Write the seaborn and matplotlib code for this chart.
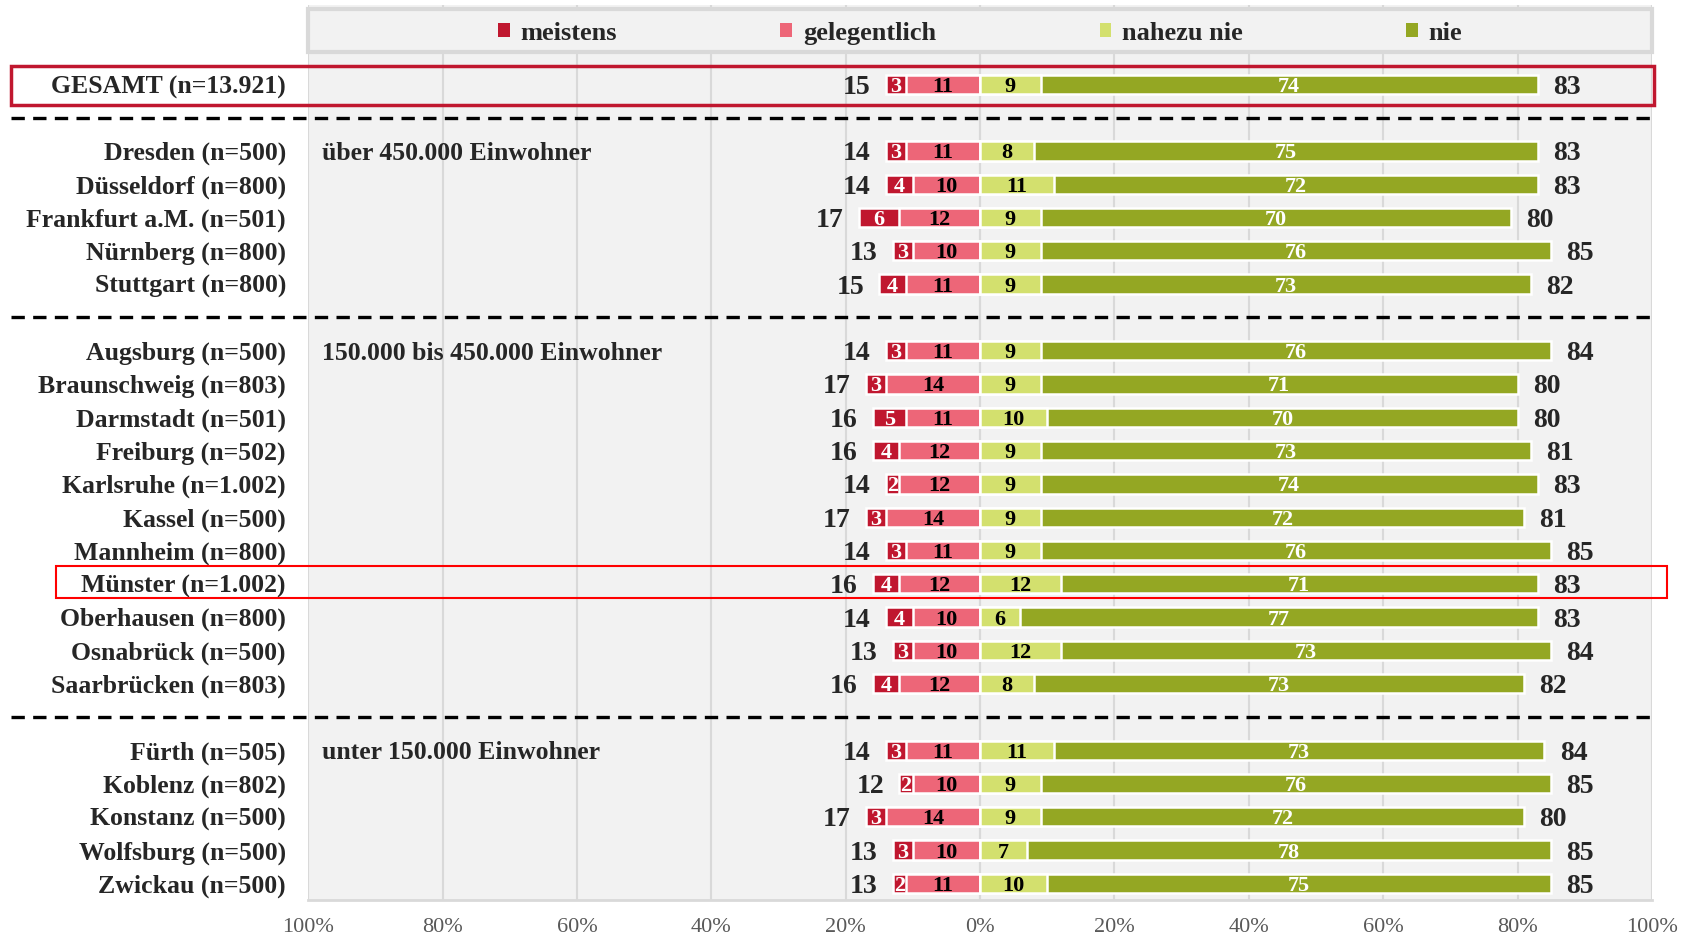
import pandas as pd
import seaborn as sns
import matplotlib.pyplot as plt
import matplotlib.transforms as mtransforms
from matplotlib.patches import Patch, Rectangle

cities = ["GESAMT (n=13.921)",
          "Dresden (n=500)", "Düsseldorf (n=800)", "Frankfurt a.M. (n=501)",
          "Nürnberg (n=800)", "Stuttgart (n=800)",
          "Augsburg (n=500)", "Braunschweig (n=803)", "Darmstadt (n=501)",
          "Freiburg (n=502)", "Karlsruhe (n=1.002)", "Kassel (n=500)",
          "Mannheim (n=800)", "Münster (n=1.002)", "Oberhausen (n=800)",
          "Osnabrück (n=500)", "Saarbrücken (n=803)",
          "Fürth (n=505)", "Koblenz (n=802)", "Konstanz (n=500)",
          "Wolfsburg (n=500)", "Zwickau (n=500)"]
positions = [0, 2, 3, 4, 5, 6, 8, 9, 10, 11, 12, 13, 14, 15, 16, 17, 18,
             20, 21, 22, 23, 24]

meistens = [3, 3, 4, 6, 3, 4, 3, 3, 5, 4, 2, 3, 3, 4, 4, 3, 4, 3, 2, 3, 3, 2]
gelegentlich = [11, 11, 10, 12, 10, 11, 11, 14, 11, 12, 12, 14, 11, 12, 10, 10, 12,
                11, 10, 14, 10, 11]
nahezu_nie = [9, 8, 11, 9, 9, 9, 9, 9, 10, 9, 9, 9, 9, 12, 6, 12, 8, 11, 9, 9, 7, 10]
nie = [74, 75, 72, 70, 76, 73, 76, 71, 70, 73, 74, 72, 76, 71, 77, 73, 73,
       73, 76, 72, 78, 75]
total_left = [15, 14, 14, 17, 13, 15, 14, 17, 16, 16, 14, 17, 14, 16, 14, 13, 16,
              14, 12, 17, 13, 13]
total_right = [83, 83, 83, 80, 85, 82, 84, 80, 80, 81, 83, 81, 85, 83, 83, 84, 82,
               84, 85, 80, 85, 85]

groups = ["über 450.000 Einwohner", "150.000 bis 450.000 Einwohner",
          "unter 150.000 Einwohner"]
group_pos = [2, 8, 20]
separators = [1, 7, 19]
highlight_gesamt = 0
highlight_muenster = 15

categories = ["meistens", "gelegentlich", "nahezu nie", "nie"]
colors = ["#C0172F", "#ED6678", "#D3E06E", "#94A723"]
label_colors = ["white", "black", "black", "white"]

xticks = [-100, -80, -60, -40, -20, 0, 20, 40, 60, 80, 100]
xtick_labels = ["100%", "80%", "60%", "40%", "20%", "0%", "20%", "40%", "60%", "80%", "100%"]

df = pd.DataFrame({"city": cities, "pos": positions, "m": meistens, "g": gelegentlich,
                   "n": nahezu_nie, "nie": nie})
df["left_outer"] = -(df["m"] + df["g"])
df["left_inner"] = -df["g"]
df["right_outer"] = df["n"] + df["nie"]
df["right_inner"] = df["n"]

sns.set_theme(style="whitegrid", rc={"axes.facecolor": "#F2F2F2", "grid.color": "#D9D9D9",
                                     "grid.linewidth": 1.5})
plt.rcParams["font.family"] = ["Liberation Serif", "DejaVu Serif"]

fig = plt.figure(figsize=(16.84, 9.39), dpi=100)
ax = fig.add_axes([0.183, 0.0415, 0.798, 0.9527])

layers = [("left_outer", colors[0]), ("left_inner", colors[1]),
          ("right_outer", colors[3]), ("right_inner", colors[2])]
for col, c in layers:
    sns.barplot(data=df, x=col, y="pos", orient="y", native_scale=True, color=c,
                saturation=1, width=0.58, edgecolor="white", linewidth=1.8,
                errorbar=None, ax=ax)

# segment labels
for _, r in df.iterrows():
    centers = [-(r.g + r.m / 2), -r.g / 2, r.n / 2, r.n + r.nie / 2]
    vals = [r.m, r.g, r.n, r.nie]
    for xc, v, lc in zip(centers, vals, label_colors):
        ax.text(xc, r.pos, f"{v}", ha="center", va="center_baseline", color=lc,
                fontsize=16, fontweight="bold")

for p, lo, tl, ro, tr in zip(df["pos"], df["left_outer"], total_left,
                             df["right_outer"], total_right):
    ax.annotate(f"{tl}", (lo, p), xytext=(-11, 0), textcoords="offset points",
                ha="right", va="center_baseline", fontsize=20, fontweight="bold")
    ax.annotate(f"{tr}", (ro, p), xytext=(11, 0), textcoords="offset points",
                ha="left", va="center_baseline", fontsize=20, fontweight="bold")

ax.set_xlim(-100, 100)
ax.set_ylim(24.5, -2.37)
ax.set_xticks(xticks)
ax.set_xticklabels(xtick_labels)
ax.set_yticks(positions)
ax.set_yticklabels(cities)
ax.tick_params(axis="x", length=0, pad=13, labelsize=16, labelcolor="#595959")
ax.tick_params(axis="y", length=0, pad=16, labelsize=18.5)
for t in ax.get_yticklabels():
    t.set_fontweight("bold")
ax.grid(axis="y", visible=False)
ax.grid(axis="x", visible=True)
ax.set_xlabel("")
ax.set_ylabel("")
for s in ["left", "right", "top"]:
    ax.spines[s].set_visible(False)
ax.spines["bottom"].set_color("#D9D9D9")
ax.spines["bottom"].set_linewidth(2)
ax.axvline(0, color="#D0D0D0", lw=1.5, zorder=0.5)

trans = mtransforms.blended_transform_factory(ax.transAxes, ax.transData)

for s in separators:
    ax.plot([-0.221, 1.0], [s, s], transform=trans, color="black", lw=2.4,
            ls=(0, (4, 2.5)), clip_on=False)

for g, gp in zip(groups, group_pos):
    ax.text(0.0106, gp, g, transform=trans, ha="left", va="center_baseline",
            fontsize=18.5, fontweight="bold")

ax.add_patch(Rectangle((-0.221, highlight_gesamt - 0.55), 1.2225, 1.16, transform=trans,
                       fill=False, edgecolor="#C0172F", lw=2.5, clip_on=False, zorder=5))
ax.add_patch(Rectangle((-0.1876, highlight_muenster - 0.52), 1.1988, 0.94, transform=trans,
                       fill=False, edgecolor="#FF0000", lw=1.5, clip_on=False, zorder=5))

# legend box
ax.add_patch(Rectangle((0.0, -2.27), 1.0, 1.3, transform=trans, facecolor="#F2F2F2",
                       edgecolor="#D9D9D9", lw=3, clip_on=False, zorder=4))
handles = [Patch(facecolor=c, edgecolor="none", label=l) for c, l in zip(colors, categories)]
leg = ax.legend(handles=handles, loc="center", bbox_to_anchor=(0.5, 0.969), ncol=4,
                frameon=False, fontsize=19, handlelength=0.45, handleheight=0.45,
                handletextpad=0.4, columnspacing=6.2)
leg.set_zorder(6)
for t in leg.get_texts():
    t.set_fontweight("bold")

fig.savefig("out.png", dpi=100)
